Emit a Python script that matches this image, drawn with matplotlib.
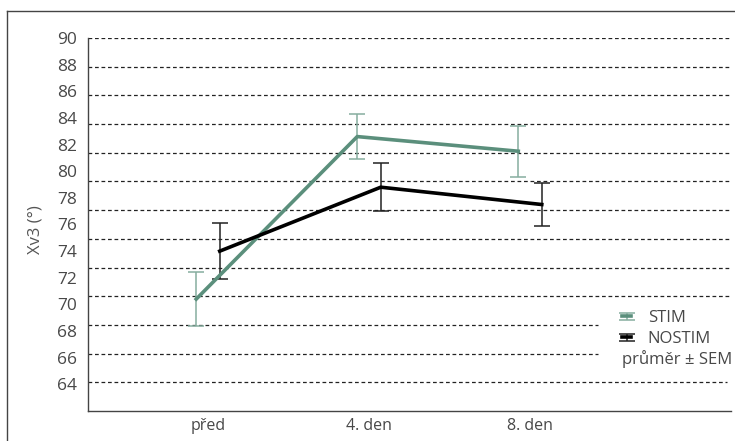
import matplotlib
matplotlib.use("Agg")
import matplotlib.pyplot as plt
from matplotlib.lines import Line2D
from matplotlib.container import ErrorbarContainer
from matplotlib.legend_handler import HandlerErrorbar
import numpy as np

plt.rcParams['font.family'] = ['Open Sans', 'DejaVu Sans']

# data (mean +- SEM)
categories = ['před', '4. den', '8. den']
stim_mean = [70.4, 82.6, 81.5]
stim_sem = [2.0, 1.7, 1.9]
nostim_mean = [74.0, 78.8, 77.5]
nostim_sem = [2.1, 1.8, 1.65]
ytick_values = list(range(64, 91, 2))

W, H = 735, 441
fig = plt.figure(figsize=(W / 100, H / 100), dpi=100)
ax = fig.add_axes([88 / W, 1 - 411 / H, (731 - 88) / W, (411 - 38) / H])

green = '#5b8f7c'
green_err = '#86ad9f'
txt = '#484848'

ax.set_ylim(62, 90)
ax.set_xlim(-0.745, 3.248)

# dashed grid: 13 equal divisions of the axis (not on the tick labels)
for k in range(1, 14):
    yv = 62 + k * 28 / 13
    xmax = 0.793 if k in (2, 3) else (0.994 if k == 1 else 0.998)
    ax.axhline(yv, xmin=0, xmax=xmax, color='#222222', lw=0.9,
               ls=(0, (3, 2.2)), zorder=1)

x = np.arange(len(categories))
off = 0.073
h_stim = ax.errorbar(x - off, stim_mean, yerr=stim_sem, color=green, lw=2.6,
                     ecolor=green_err, elinewidth=1.1, capsize=5.5,
                     capthick=1.1, zorder=3)
h_nost = ax.errorbar(x + off, nostim_mean, yerr=nostim_sem, color='black',
                     lw=2.6, ecolor='#222222', elinewidth=1.1, capsize=5.5,
                     capthick=1.1, zorder=3)

ax.set_yticks(ytick_values)
ax.set_yticklabels([str(v) for v in ytick_values], fontsize=12.5, color=txt)
ax.set_xticks(x)
ax.set_xticklabels(categories, fontsize=11.5, color=txt)
ax.tick_params(axis='both', length=0)
ax.tick_params(axis='y', pad=8)
ax.tick_params(axis='x', pad=5)

for s in ('top', 'right'):
    ax.spines[s].set_visible(False)
for s in ('left', 'bottom'):
    ax.spines[s].set_color('#444444')
    ax.spines[s].set_linewidth(1.0)

fig.text(35 / W, 1 - 230 / H, 'Xv3 (°)', rotation=90, ha='center',
         va='center', fontsize=12, color='#555555')

leg = ax.legend([h_stim, h_nost], ['STIM', 'NOSTIM'], loc='upper left',
                bbox_to_anchor=(622 / W, 1 - 310 / H),
                bbox_transform=fig.transFigure, frameon=False, fontsize=12,
                handlelength=0.55, handletextpad=1.0, labelspacing=0.3,
                borderpad=0, borderaxespad=0,
                handler_map={ErrorbarContainer: HandlerErrorbar(yerr_size=0.22)})
for t in leg.get_texts():
    t.set_color(txt)
fig.text(622 / W, 1 - 359 / H, 'průměr ± SEM', ha='left', va='center',
         fontsize=12, color=txt)

# outer frame (left and top edges visible)
fig.add_artist(Line2D([7 / W, 7 / W], [0, 1 - 11 / H], color='#444444',
                      lw=1.0, transform=fig.transFigure))
fig.add_artist(Line2D([7 / W, 1], [1 - 11 / H, 1 - 11 / H], color='#444444',
                      lw=1.0, transform=fig.transFigure))

fig.savefig('out.png', dpi=100)
